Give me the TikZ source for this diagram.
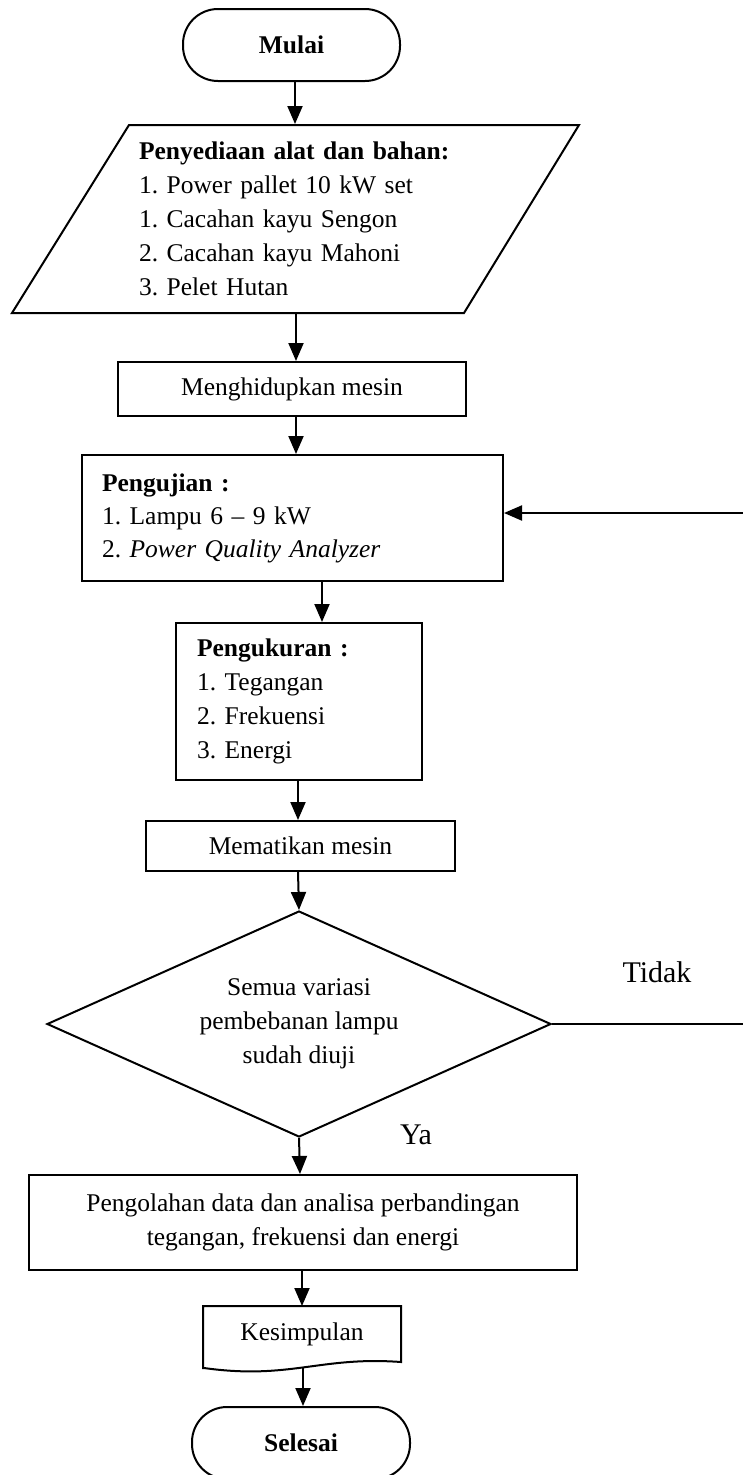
\documentclass[tikz,border=0pt]{standalone}
\usepackage{fontspec}
\setmainfont{Liberation Serif}
\frenchspacing
\usetikzlibrary{shapes.geometric,arrows.meta}
\begin{document}
\begin{tikzpicture}[x=1pt,y=-1pt,line width=2pt,
  every node/.style={font=\fontsize{25.5}{34}\selectfont,inner sep=0pt},
  arr/.style={-{Triangle[length=18pt,width=15pt]},line width=2pt},
  box/.style={draw,rectangle},
  term/.style={draw,rectangle,rounded corners=35pt,font=\bfseries\fontsize{25.5}{34}\selectfont},
  lbl/.style={font=\fontsize{30}{36}\selectfont}]
\useasboundingbox (0,0) rectangle (743,1475);
\clip (0,0) rectangle (743,1475);
\fill[white] (0,0) rectangle (743,1475);

\node[term,minimum width=217pt,minimum height=72pt] (mulai) at (291.5,45) {Mulai};

\node[minimum width=335pt,minimum height=188pt,text width=314pt,align=left] (alat) at (296,219)
  {\textbf{Penyediaan alat dan bahan:}\\1. Power pallet 10 kW set\\1. Cacahan kayu Sengon\\2. Cacahan kayu Mahoni\\3. Pelet Hutan};
\draw (129,125) -- (579,125) -- (464,313) -- (12,313) -- cycle;

\node[box,minimum width=348pt,minimum height=54pt] (hidup) at (292,389) {Menghidupkan mesin};

\node[box,minimum width=421pt,minimum height=126pt,text width=381pt,align=left,
  font=\fontsize{25.5}{33}\selectfont] (uji) at (292.5,518)
  {\textbf{Pengujian :}\\1. Lampu 6 -- 9 kW\\2. \textit{Power Quality Analyzer}};

\node[box,minimum width=246pt,minimum height=157pt,text width=204pt,align=left] (ukur) at (299,701.5)
  {\textbf{Pengukuran :}\\1. Tegangan\\2. Frekuensi\\3. Energi};

\node[box,minimum width=309pt,minimum height=50pt] (mati) at (300.5,846) {Mematikan mesin};

\node[draw,diamond,aspect=2.23,minimum width=504pt,minimum height=226pt,align=center] (dia) at (299,1024)
  {Semua variasi\\pembebanan lampu\\sudah diuji};

\node[box,minimum width=548pt,minimum height=95pt,align=center] (olah) at (303,1222.5)
  {Pengolahan data dan analisa perbandingan\\tegangan, frekuensi dan energi};

\node[minimum width=196pt,minimum height=54pt] (kes) at (302,1334) {Kesimpulan};
\draw (kes.south west) ++(0,7) -- (kes.north west) -- (kes.north east) -- (kes.south east)
  .. controls (320,1356) and (290,1380) .. (204,1368);
\coordinate (kesb) at (303,1367);

\node[term,minimum width=218pt,minimum height=72pt] (selesai) at (301,1443) {Selesai};

\node[lbl] (tidak) at (657,972) {Tidak};
\node[lbl] (ya) at (416,1135) {Ya};

\coordinate (rt) at (760,0);

\draw[arr] (mulai.south -| 295,0) -- (alat.north -| 295,0);
\draw[arr] (alat.south -| 296,0) -- (hidup.north -| 296,0);
\draw[arr] (hidup.south -| 296,0) -- (uji.north -| 296,0);
\draw[arr] (uji.south -| 322,0) -- (ukur.north -| 322,0);
\draw[arr] (ukur.south -| 298,0) -- (mati.north -| 298,0);
\draw[arr] (mati.south -| 298,0) -- (dia.north);
\draw[arr] (dia.south) -- (olah.north -| 300,0);
\draw[arr] (olah.south -| 302,0) -- (kes.north -| 302,0);
\draw[arr] (kesb) -- (selesai.north -| 303,0);
\draw[arr] (dia.east) -- (dia.east -| rt) -- ([yshift=5pt]uji.east -| rt) -- ([yshift=5pt]uji.east);
\end{tikzpicture}
\end{document}
